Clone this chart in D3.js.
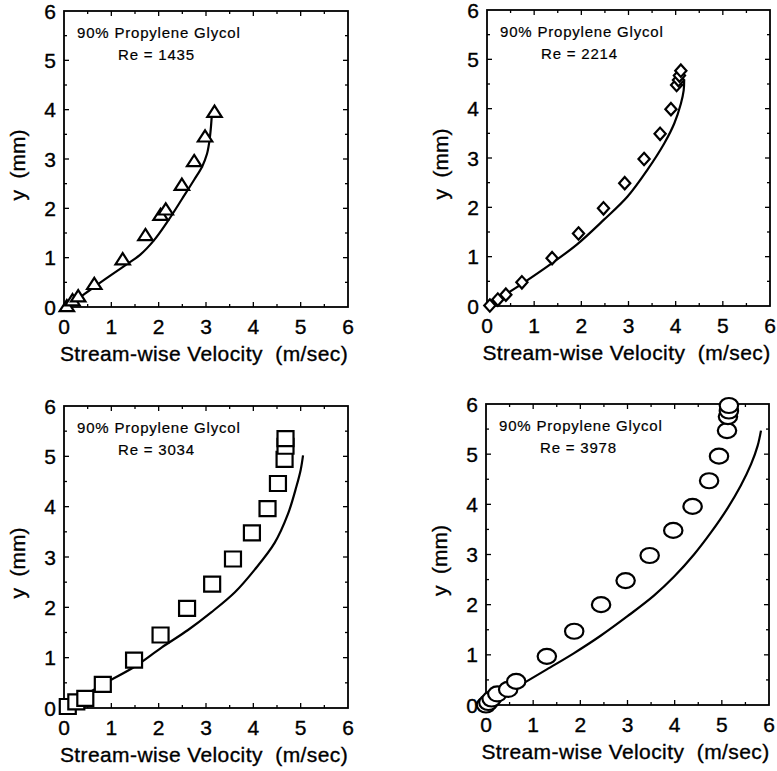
<!DOCTYPE html>
<html>
<head>
<meta charset="utf-8">
<script src="https://cdn.jsdelivr.net/npm/d3@7"></script>
<style>
  body { margin: 0; background: #fff; }
  svg { display: block; }
  text { font-family: "Liberation Sans", Arial, Helvetica, sans-serif; fill: #000; white-space: pre; }
</style>
</head>
<body>
<div id="chart_div"></div>
<script>
// measured profiles, [velocity m/s, y mm]
var pts1435 = [[0.06, 0.0], [0.18, 0.12], [0.3, 0.2], [0.64, 0.45], [1.24, 0.95], [1.72, 1.44],
    [2.04, 1.85], [2.15, 1.96], [2.49, 2.46], [2.75, 2.94], [2.98, 3.44], [3.18, 3.94]];
var line1435 = [[0.05, 0.0], [0.3, 0.17], [0.6, 0.38], [1.0, 0.65], [1.3, 0.85], [1.6, 1.05],
    [1.9, 1.35], [2.2, 1.75], [2.5, 2.2], [2.75, 2.58], [2.92, 2.85], [3.02, 3.1], [3.07, 3.35],
    [3.1, 3.6], [3.12, 3.85]];

var pts2214 = [[0.06, 0.01], [0.23, 0.13], [0.4, 0.23], [0.74, 0.48], [1.38, 0.97], [1.94, 1.47],
    [2.47, 1.98], [2.92, 2.49], [3.33, 2.98], [3.67, 3.49], [3.9, 3.99], [4.02, 4.48],
    [4.06, 4.58], [4.08, 4.67], [4.11, 4.77]];
var line2214 = [[0.0, 0.0], [0.4, 0.24], [0.74, 0.45], [1.35, 0.85], [1.91, 1.25], [2.48, 1.75],
    [2.98, 2.22], [3.4, 2.76], [3.76, 3.3], [3.97, 3.7], [4.11, 4.1], [4.17, 4.37], [4.18, 4.57]];

var pts3034 = [[0.08, 0.03], [0.26, 0.12], [0.45, 0.19], [0.82, 0.47], [1.48, 0.95], [2.04, 1.45],
    [2.6, 1.98], [3.13, 2.46], [3.57, 2.96], [3.97, 3.48], [4.3, 3.96], [4.52, 4.46],
    [4.66, 4.94], [4.68, 5.2], [4.68, 5.35]];
var line3034 = [[0.0, 0.0], [0.4, 0.23], [0.82, 0.47], [1.49, 0.82], [2.06, 1.2], [2.62, 1.55],
    [3.11, 1.9], [3.61, 2.3], [4.03, 2.75], [4.45, 3.28], [4.73, 3.85], [4.91, 4.4],
    [5.0, 4.73], [5.05, 5.02]];

var pts3978 = [[0.0, 0.0], [0.05, 0.05], [0.12, 0.12], [0.24, 0.22], [0.47, 0.31], [0.64, 0.47],
    [1.29, 0.97], [1.87, 1.47], [2.44, 2.0], [2.96, 2.48], [3.47, 2.98], [3.97, 3.48],
    [4.38, 3.96], [4.73, 4.47], [4.94, 4.96], [5.11, 5.47], [5.13, 5.75], [5.15, 5.86],
    [5.15, 5.97]];
var line3978 = [[0.0, 0.0], [0.4, 0.21], [0.79, 0.43], [1.29, 0.71], [1.86, 1.03], [2.43, 1.38],
    [3.0, 1.77], [3.56, 2.18], [3.99, 2.56], [4.41, 3.0], [4.77, 3.44], [5.12, 3.92],
    [5.4, 4.37], [5.62, 4.8], [5.76, 5.17], [5.83, 5.47]];

var reLabels = ["Re = 1435", "Re = 2214", "Re = 3034", "Re = 3978"];
var fluidLabel = "90% Propylene Glycol";
var axisTicks = [0, 1, 2, 3, 4, 5, 6];
var minorTicks = [0.5, 1.5, 2.5, 3.5, 4.5, 5.5];
var xTitle = "Stream-wise Velocity  (m/sec)";
var yTitle = "y  (mm)";

var width = 777, height = 771;
var svg = d3.select("#chart_div").append("svg")
    .attr("width", width)
    .attr("height", height);

// frame boxes of each panel, left right top bottom
var panels = [
    { box: [64, 348, 11, 307], pts: pts1435, line: line1435, mark: "triangle", re: reLabels[0] },
    { box: [487, 770, 10, 306], pts: pts2214, line: line2214, mark: "diamond", re: reLabels[1] },
    { box: [64, 348, 406, 708], pts: pts3034, line: line3034, mark: "square", re: reLabels[2] },
    { box: [486, 769, 404, 705], pts: pts3978, line: line3978, mark: "circle", re: reLabels[3] }
];

var shapes = {
    triangle: "M0,-7L7.2,4.2L-7.2,4.2Z",
    diamond: "M0,-6.2L5.6,0L0,6.2L-5.6,0Z",
    square: "M-8,-7.5L8,-7.5L8,7.5L-8,7.5Z"
};

panels.forEach(function(p) {
    var x = d3.scaleLinear().domain([0, 6]).range([p.box[0], p.box[1]]);
    var y = d3.scaleLinear().domain([0, 6]).range([p.box[3], p.box[2]]);
    var g = svg.append("g");

    // inward ticks on all four sides
    var tk = g.append("g").attr("stroke", "#000").attr("stroke-width", 1.3);
    function ticks(list, len) {
        list.forEach(function(t) {
            tk.append("line").attr("x1", x(t)).attr("x2", x(t))
                .attr("y1", p.box[3]).attr("y2", p.box[3] - len);
            tk.append("line").attr("x1", x(t)).attr("x2", x(t))
                .attr("y1", p.box[2]).attr("y2", p.box[2] + len);
            tk.append("line").attr("y1", y(t)).attr("y2", y(t))
                .attr("x1", p.box[0]).attr("x2", p.box[0] + len);
            tk.append("line").attr("y1", y(t)).attr("y2", y(t))
                .attr("x1", p.box[1]).attr("x2", p.box[1] - len);
        });
    }
    ticks(axisTicks.slice(1, 6), 5);
    ticks(minorTicks, 3);

    g.append("rect")
        .attr("x", p.box[0]).attr("y", p.box[2])
        .attr("width", p.box[1] - p.box[0]).attr("height", p.box[3] - p.box[2])
        .attr("fill", "none").attr("stroke", "#000").attr("stroke-width", 1.8);

    var lab = g.append("g").attr("stroke", "#000").attr("stroke-width", 0.35);
    lab.append("g").selectAll("text").data(axisTicks).enter().append("text")
        .attr("x", function(d) { return x(d); })
        .attr("y", p.box[3] + 27)
        .attr("text-anchor", "middle")
        .attr("font-size", 21)
        .text(function(d) { return d; });
    lab.append("g").selectAll("text").data(axisTicks).enter().append("text")
        .attr("x", p.box[0] - 8)
        .attr("y", function(d) { return y(d); })
        .attr("dy", "0.36em")
        .attr("text-anchor", "end")
        .attr("font-size", 21)
        .text(function(d) { return d; });

    lab.append("text")
        .attr("x", (p.box[0] + p.box[1]) / 2 - 2)
        .attr("y", p.box[3] + 54)
        .attr("text-anchor", "middle")
        .attr("font-size", 21)
        .attr("letter-spacing", 0.4)
        .text(xTitle);
    lab.append("text")
        .attr("transform", "translate(" + (p.box[0] - 39) + "," + ((p.box[2] + p.box[3]) / 2 + 6) + ") rotate(-90)")
        .attr("text-anchor", "middle")
        .attr("font-size", 21)
        .text(yTitle);

    var note = g.append("g").attr("stroke", "#000").attr("stroke-width", 0.2);
    note.append("text")
        .attr("x", p.box[0] + 13).attr("y", p.box[2] + 27)
        .attr("font-size", 15)
        .attr("letter-spacing", 0.8)
        .text(fluidLabel);
    note.append("text")
        .attr("x", p.box[0] + 54).attr("y", p.box[2] + 49)
        .attr("font-size", 15)
        .attr("letter-spacing", 0.8)
        .text(p.re);

    var curve = d3.line()
        .x(function(d) { return x(d[0]); })
        .y(function(d) { return y(d[1]); })
        .curve(d3.curveCatmullRom);
    g.append("path")
        .attr("d", curve(p.line))
        .attr("fill", "none").attr("stroke", "#000").attr("stroke-width", 2.2);

    var m = g.append("g").selectAll(".mk").data(p.pts).enter();
    if (p.mark == "circle") {
        m.append("ellipse")
            .attr("cx", function(d) { return x(d[0]); })
            .attr("cy", function(d) { return y(d[1]); })
            .attr("rx", 9.2).attr("ry", 7.5)
            .attr("fill", "#fff").attr("stroke", "#000").attr("stroke-width", 2.2);
    } else {
        m.append("path")
            .attr("d", shapes[p.mark])
            .attr("transform", function(d) { return "translate(" + x(d[0]) + "," + y(d[1]) + ")"; })
            .attr("fill", "#fff").attr("stroke", "#000").attr("stroke-width", 2.2);
    }
});
</script>
</body>
</html>
